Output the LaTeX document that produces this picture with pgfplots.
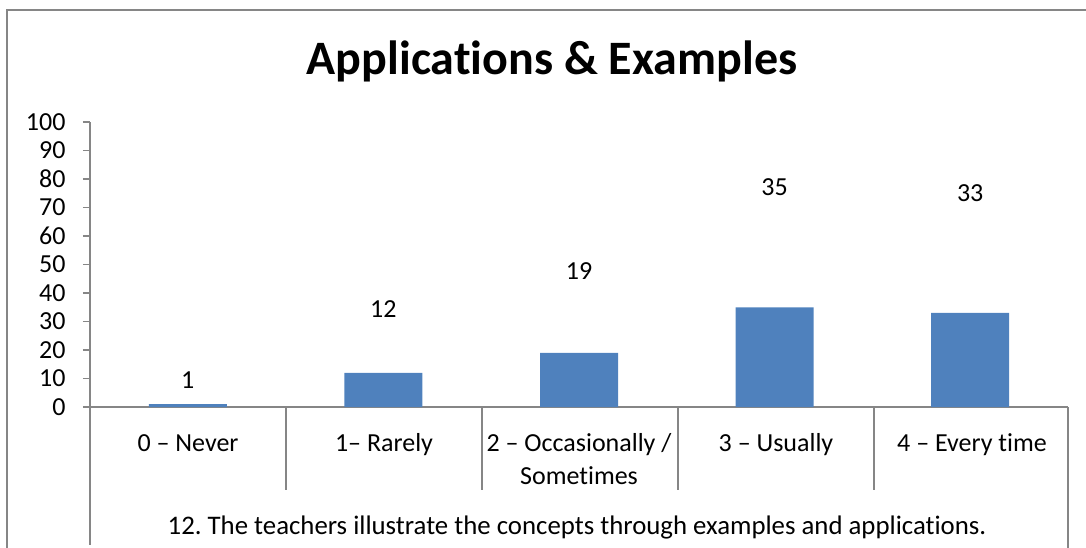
\documentclass[border=0pt]{standalone}
\usepackage{fontspec}
\setmainfont[Ligatures=NoCommon]{Carlito}
\usepackage{pgfplots}
\pgfplotsset{compat=1.18}
\definecolor{barblue}{HTML}{4F81BD}
\definecolor{axgray}{HTML}{868686}
\frenchspacing
\begin{document}
\begin{tikzpicture}
\useasboundingbox (0pt,0pt) rectangle (1086pt,-548pt);
\draw[axgray, line width=1.6pt] (7pt,-570pt) -- (7pt,-10pt) -- (1100pt,-10pt);
\begin{axis}[
  at={(90pt,-407pt)}, anchor=south west,
  scale only axis, width=978pt, height=285pt,
  xmin=-0.5, xmax=4.5, ymin=0, ymax=100,
  axis lines*=left,
  axis line style={axgray, line width=1.3pt},
  ytick={0,10,...,100}, xtick=\empty,
  tick align=outside, major tick length=7pt,
  tick style={axgray, line width=1.3pt},
  yticklabel style={font=\fontsize{26}{30}\selectfont, /pgf/number format/assume math mode=true, xshift=-14pt},
  clip=false,
]
\addplot[ybar, bar width=78pt, fill=barblue, draw=none] coordinates {(0,1) (1,12) (2,19) (3,35) (4,33)};
\node[font=\fontsize{26}{30}\selectfont] at (axis cs:0,9.5) {1};
\node[font=\fontsize{26}{30}\selectfont] at (axis cs:1,34.4) {12};
\node[font=\fontsize{26}{30}\selectfont] at (axis cs:2,47.7) {19};
\node[font=\fontsize{26}{30}\selectfont] at (axis cs:3,77) {35};
\node[font=\fontsize{26}{30}\selectfont] at (axis cs:4,75) {33};
\end{axis}
\begin{scope}[axgray, line width=1.3pt]
\draw (90pt,-407pt) -- (90pt,-545pt);
\draw (286pt,-407pt) -- (286pt,-490pt);
\draw (482pt,-407pt) -- (482pt,-490pt);
\draw (678pt,-407pt) -- (678pt,-490pt);
\draw (874pt,-407pt) -- (874pt,-490pt);
\draw (1068pt,-407pt) -- (1068pt,-560pt);
\end{scope}
\begin{scope}[font=\fontsize{26}{33}\selectfont]
\node[anchor=base] at (188pt,-451pt) {0 – Never};
\node[anchor=base] at (384pt,-451pt) {1– Rarely};
\node[anchor=base] at (579pt,-451pt) {2 – Occasionally /};
\node[anchor=base] at (579pt,-484pt) {Sometimes};
\node[anchor=base] at (776pt,-451pt) {3 – Usually};
\node[anchor=base] at (972pt,-451pt) {4 – Every time};
\node[anchor=base, font=\fontsize{26.8}{33}\selectfont] at (577pt,-534pt) {12. The teachers illustrate the concepts through examples and applications.};
\end{scope}
\node[anchor=base, font=\fontsize{48}{52}\selectfont\bfseries] at (552pt,-75pt) {Applications \& Examples};
\end{tikzpicture}
\end{document}
